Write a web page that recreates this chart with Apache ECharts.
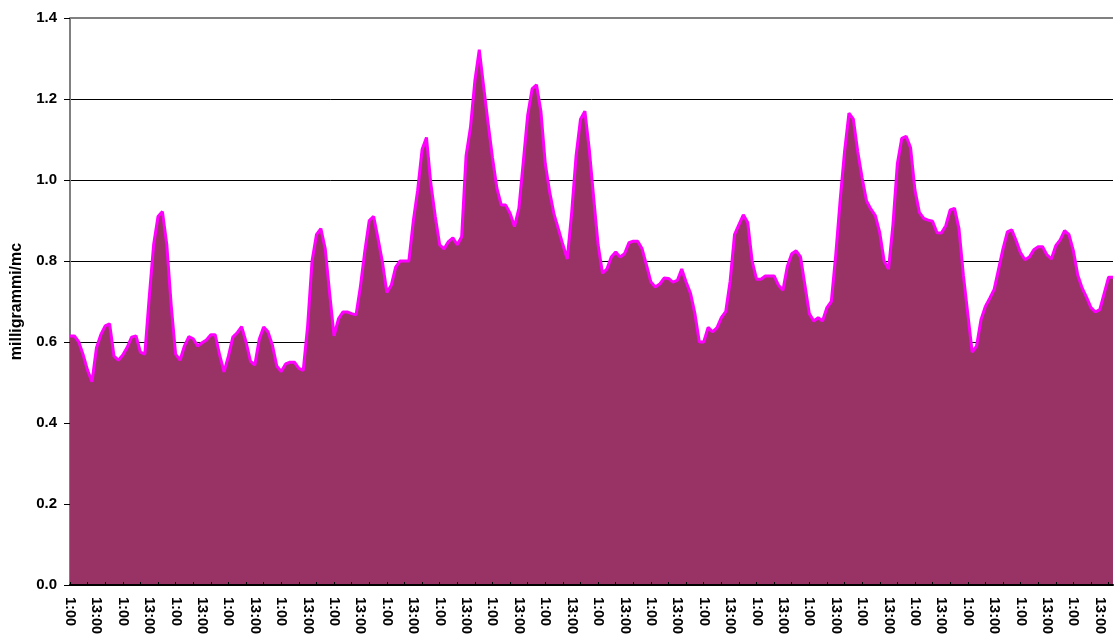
<!DOCTYPE html>
<html>
<head>
<meta charset="utf-8">
<script src="https://cdn.jsdelivr.net/npm/echarts@6/dist/echarts.min.js"></script>
<style>
html,body{margin:0;padding:0;background:#fff;}
#main{width:1115px;height:636px;}
</style>
</head>
<body>
<div id="main"></div>
<script>
// readings every 2 hours, one row per day
var hourNames = ['1:00','3:00','5:00','7:00','9:00','11:00','13:00','15:00','17:00','19:00','21:00','23:00'];
var values = [
  0.615, 0.615, 0.60, 0.568, 0.53, 0.502, 0.585, 0.618, 0.64, 0.645, 0.565, 0.555,
  0.568, 0.587, 0.612, 0.615, 0.575, 0.57, 0.71, 0.84, 0.91, 0.922, 0.84, 0.69,
  0.57, 0.555, 0.59, 0.613, 0.608, 0.59, 0.598, 0.605, 0.618, 0.618, 0.568, 0.526,
  0.565, 0.612, 0.623, 0.638, 0.60, 0.553, 0.543, 0.607, 0.637, 0.625, 0.592, 0.54,
  0.527, 0.546, 0.55, 0.55, 0.535, 0.53, 0.64, 0.80, 0.865, 0.88, 0.83, 0.72,
  0.615, 0.657, 0.674, 0.674, 0.67, 0.667, 0.738, 0.825, 0.90, 0.91, 0.855, 0.797,
  0.722, 0.74, 0.785, 0.80, 0.80, 0.80, 0.898, 0.975, 1.075, 1.105, 0.99, 0.91,
  0.84, 0.83, 0.848, 0.857, 0.84, 0.86, 1.06, 1.13, 1.245, 1.322, 1.23, 1.14,
  1.055, 0.98, 0.938, 0.938, 0.918, 0.885, 0.93, 1.045, 1.16, 1.225, 1.235, 1.17,
  1.04, 0.97, 0.915, 0.878, 0.84, 0.805, 0.92, 1.06, 1.15, 1.17, 1.075, 0.955,
  0.84, 0.77, 0.78, 0.81, 0.822, 0.81, 0.818, 0.845, 0.849, 0.849, 0.83, 0.79,
  0.748, 0.736, 0.743, 0.758, 0.757, 0.748, 0.752, 0.78, 0.748, 0.72, 0.67, 0.60,
  0.60, 0.636, 0.625, 0.635, 0.66, 0.675, 0.75, 0.865, 0.89, 0.914, 0.895, 0.80,
  0.755, 0.755, 0.763, 0.763, 0.763, 0.74, 0.728, 0.787, 0.818, 0.825, 0.81, 0.74,
  0.67, 0.652, 0.66, 0.652, 0.685, 0.70, 0.815, 0.95, 1.07, 1.165, 1.15, 1.07,
  1.005, 0.948, 0.928, 0.912, 0.87, 0.80, 0.78, 0.89, 1.04, 1.103, 1.108, 1.08,
  0.975, 0.92, 0.905, 0.901, 0.898, 0.87, 0.869, 0.887, 0.926, 0.93, 0.88, 0.765,
  0.67, 0.575, 0.59, 0.655, 0.688, 0.708, 0.73, 0.78, 0.83, 0.872, 0.877, 0.85,
  0.82, 0.803, 0.81, 0.828, 0.835, 0.835, 0.815, 0.805, 0.838, 0.852, 0.875, 0.865,
  0.825, 0.765, 0.733, 0.71, 0.685, 0.674, 0.68, 0.72, 0.76, 0.76
];
var yMin = 0, yMax = 1.4, yStep = 0.2;
var yName = 'milligrammi/mc';

var categories = [];
for (var i = 0; i < values.length; i++) {
  categories.push(hourNames[i % hourNames.length]);
}

var myChart = echarts.init(document.getElementById('main'));
var fontFam = 'Arial, "Liberation Sans", sans-serif';

var option = {
  animation: false,
  backgroundColor: '#fff',
  grid: { left: 70, right: 2, top: 18, bottom: 51, outerBoundsMode: 'none', containLabel: false },
  xAxis: {
    type: 'category',
    data: categories,
    boundaryGap: false,
    z: 3,
    axisLine: { lineStyle: { color: '#000', width: 2 } },
    axisTick: { inside: true, length: 3, interval: 3, lineStyle: { color: '#000' } },
    axisLabel: {
      interval: 5,
      rotate: -90,
      margin: 12,
      color: '#000',
      fontFamily: fontFam,
      fontWeight: 'bold',
      fontSize: 14.5
    },
    splitLine: { show: false }
  },
  yAxis: {
    type: 'value',
    min: yMin,
    max: yMax,
    interval: yStep,
    name: yName,
    nameLocation: 'middle',
    nameRotate: 90,
    nameGap: 45,
    nameTextStyle: { color: '#000', fontFamily: fontFam, fontWeight: 'bold', fontSize: 16 },
    axisLine: { show: true, lineStyle: { color: '#808080', width: 2 } },
    axisTick: { show: true, length: 6, lineStyle: { color: '#000' } },
    axisLabel: {
      margin: 13,
      color: '#000',
      fontFamily: fontFam,
      fontWeight: 'bold',
      fontSize: 15,
      formatter: function (v) { return v.toFixed(1); }
    },
    splitLine: { show: true, lineStyle: { color: '#000', width: 1 } }
  },
  series: [
    {
      type: 'line',
      data: values,
      showSymbol: false,
      lineStyle: { color: '#ff00ff', width: 3 },
      itemStyle: { color: '#ff00ff' },
      areaStyle: { color: '#993366', opacity: 1 },
      markLine: {
        silent: true,
        symbol: 'none',
        label: { show: false },
        lineStyle: { color: '#808080', width: 2, type: 'solid' },
        data: [{ yAxis: yMax }]
      }
    }
  ]
};

myChart.setOption(option);
window.onresize = myChart.resize;
</script>
</body>
</html>
